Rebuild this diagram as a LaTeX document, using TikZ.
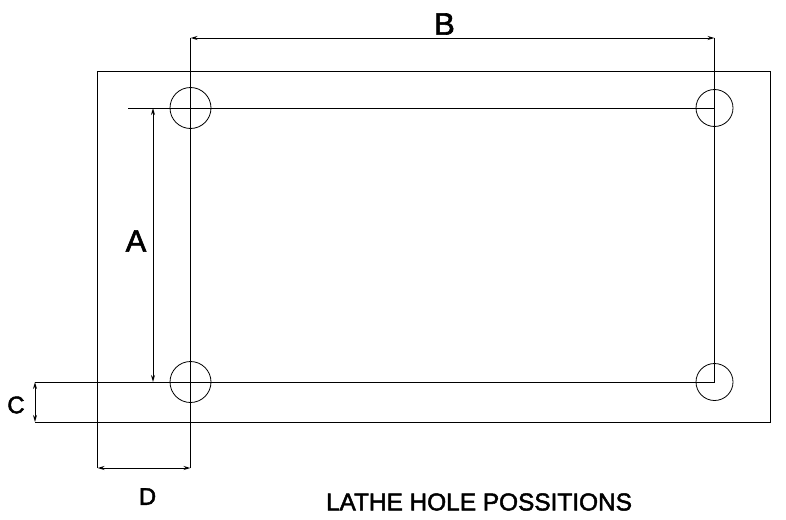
\documentclass[tikz,border=0pt]{standalone}
\usepackage{fontspec}
\setmainfont[FakeBold=2]{Liberation Sans}
\usetikzlibrary{arrows.meta}
\tikzset{
	dimline/.style={{Stealth[open,length=7pt,width=4pt,line width=1pt]}-{Stealth[open,length=7pt,width=4pt,line width=1pt]},line width=.8pt},
	edgeline/.style={line width=1pt},
	hole/.style={circle,draw,line width=.8pt,inner sep=0pt,minimum size=#1},
	letter/.style={font=\fontsize{#1}{#1}\selectfont,inner sep=0pt}
}
\begin{document}
\begin{tikzpicture}[x=1pt,y=-1pt]
	\useasboundingbox (0,0) rectangle (786,519);
	% hole centres
	\node[hole=41pt] (tl) at (190.5,108) {};
	\node[hole=37pt] (tr) at (714.5,108) {};
	\node[hole=41pt] (bl) at (190.5,382) {};
	\node[hole=37pt] (br) at (714.5,382) {};
	\coordinate (tlc) at (tl.center); \coordinate (trc) at (tr.center);
	\coordinate (blc) at (bl.center); \coordinate (brc) at (br.center);

	% plate
	\coordinate (pa) at (97.5,71.5); \coordinate (pb) at (770.5,422);
	\draw[edgeline] (pa) rectangle (pb);

	% centre and extension lines
	\coordinate (bleft) at (190.5,38); \coordinate (bright) at (714.5,38);
	\coordinate (dleft) at (97.5,468); \coordinate (dright) at (190.5,468);
	\coordinate (cup) at (35,382); \coordinate (cdown) at (35,422);
	\coordinate (atail) at (128,108);
	\coordinate (aup) at (153,108); \coordinate (adown) at (153,382);
	\draw[edgeline] (bleft) -- (dright);
	\draw[edgeline] (bright) -- (brc);
	\draw[edgeline] (atail) -- (trc);
	\draw[edgeline] (cup) -- (brc);
	\draw[edgeline] (cdown) -- (pb);
	\draw[edgeline] (pa) -- (dleft);

	% dimensions
	\draw[dimline] (bleft) -- (bright);
	\draw[dimline] (aup) -- (adown);
	\draw[dimline] (cup) -- (cdown);
	\draw[dimline] (dleft) -- (dright);

	\node[letter=31] (labB) at (444.5,24) {B};
	\node[letter=31] (labA) at (136,241) {A};
	\node[letter=24] (labC) at (16,405) {C};
	\node[letter=24] (labD) at (147.5,496.5) {D};
	\node[letter=24.4] (title) at (479,502) {LATHE HOLE POSSITIONS};
\end{tikzpicture}
\end{document}
